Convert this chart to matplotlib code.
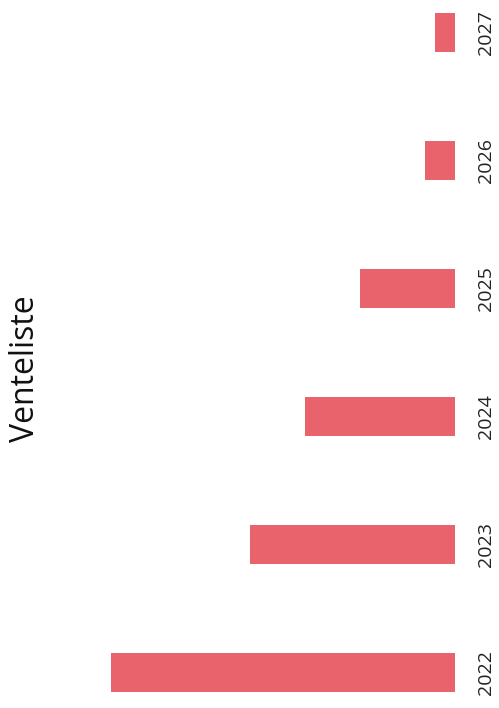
#!/usr/bin/env python3

#imports
import matplotlib.pyplot as plt
import numpy as np


#data
years = ["2022", "2023", "2024", "2025", "2026", "2027"]
venteliste = [344, 205, 150, 95, 30, 20]

#constants
BAR_COLOR = "#E9636C"
TITLE = "Venteliste"


#main
def main():
    plt.rcParams['font.family'] = ['Open Sans', 'DejaVu Sans']

    fig = plt.figure(figsize=(4.99, 7.08), dpi=100)
    ax = fig.add_axes([0, 0, 1, 1])

    pos = np.arange(len(years))
    ax.barh(pos, venteliste, height=0.305, color=BAR_COLOR)

    # chart is turned on its side: values grow to the left
    ax.set_xlim(455, -44)
    ax.set_ylim(-0.277, 5.254)

    for p, yr in zip(pos, years):
        ax.text(-31, p, yr, rotation=90, ha="center", va="center",
                fontsize=14, color="#222222")

    ax.text(430, 2.37, TITLE, rotation=90, ha="center", va="center",
            fontsize=23, color="#111111")

    ax.axis("off")
    fig.savefig("out.png", dpi=100, facecolor="white")


#main call
if __name__ == "__main__":
    main()
